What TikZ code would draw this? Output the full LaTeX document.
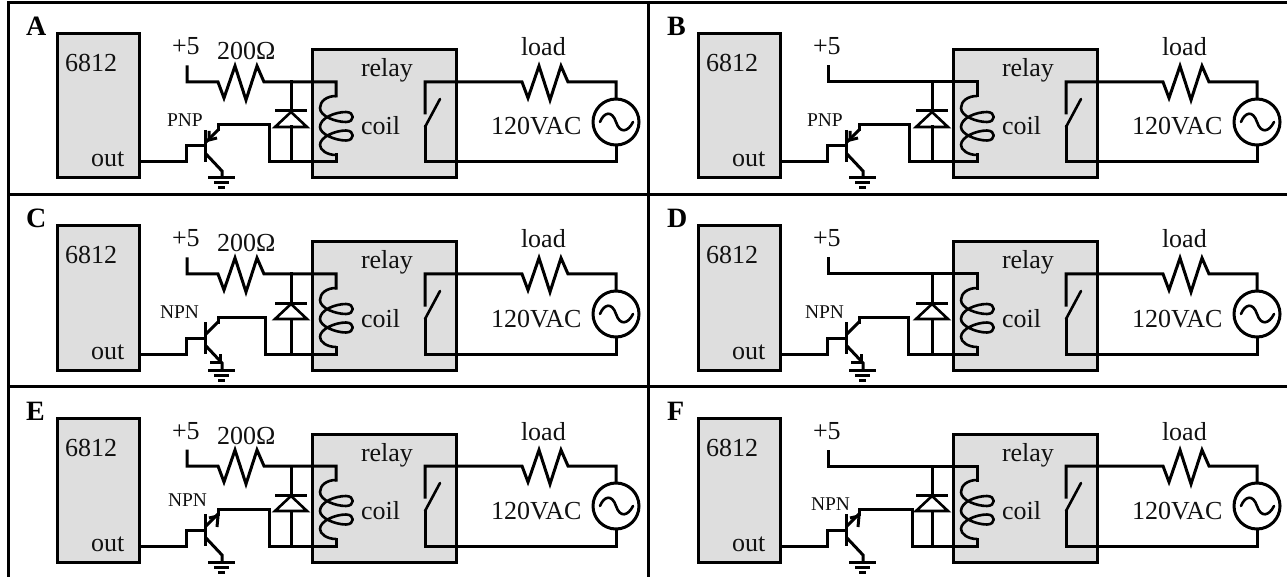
\documentclass[tikz,border=0pt]{standalone}
\usepackage{fontspec}
\setmainfont{Liberation Serif}
\usetikzlibrary{calc}
\definecolor{boxgray}{HTML}{DEDEDE}
\definecolor{ink}{HTML}{111111}
\tikzset{
  wire/.style={draw=black,line width=3pt,line join=miter,line cap=rect},
  thinwire/.style={draw=black,line width=2.6pt,line join=round,line cap=round},
  blockbox/.style={draw=black,fill=boxgray,line width=3pt,line join=miter},
  framerule/.style={draw=black,line width=3pt},
  txt/.style={anchor=base west,inner sep=0pt,outer sep=0pt,text=ink,font=\fontsize{26}{26}\selectfont},
  tag/.style={anchor=base west,inner sep=0pt,outer sep=0pt,text=black,font=\fontsize{28}{28}\selectfont\bfseries},
  small/.style={anchor=base west,inner sep=0pt,outer sep=0pt,text=ink,font=\fontsize{19.5}{20}\selectfont},
  acsource/.style={draw=black,circle,line width=3pt,minimum size=46pt,inner sep=0pt}
}
% #1 letter #2 dx #3 dy #4 with resistor (0/1) #5 transistor kind (0 PNP,1 NPN low arrow,2 NPN high arrow)
% #6 label x #7 label baseline #8 label #9 return wire x
\newcommand{\panel}[9]{%
\begin{scope}[shift={(#2,#3)}]
  \node[tag] (tag#1) at (26,36) {#1};
  % boxes
  \path[blockbox] (57,34) rectangle (139,178);
  \path[blockbox] (312,50) rectangle (456,178);
  \node[txt] (chip#1) at (65,72) {6812};
  \node[txt] (out#1) at (91,167) {out};
  \node[txt] (plus#1) at (172,55) {+5};
  \node[txt] (relay#1) at (361,77) {relay};
  \node[txt] (coil#1) at (361,135) {coil};
  \node[txt] (load#1) at (521,56) {load};
  \node[txt] (vac#1) at (491,135) {120VAC};
  \node[small] (type#1) at (#6,#7) {#8};
  % coordinates
  \coordinate (vcc#1) at (187,67);
  \coordinate (vcb#1) at (187,82);
  \coordinate (jt#1) at (291,82);
  \coordinate (ct#1) at (336,82);
  \coordinate (cb#1) at (336,162);
  \coordinate (jb#1) at (291,162);
  \coordinate (ret#1) at (#9,162);
  \coordinate (col#1) at (#9,125);
  \coordinate (mo#1) at (139,162);
  \coordinate (sw1#1) at (425,82);
  \coordinate (sw2#1) at (425,162);
  % supply
  \ifnum#4=1
    \node[txt] (ohm#1) at (217,60) {200Ω};
    \draw[wire] (vcc#1) -- (vcb#1) -- (218,82) -- (224,98) -- (235,66) -- (246,100) -- (257,66) -- (264,82) -- (ct#1) -- (336,96);
  \else
    \draw[wire] (vcc#1) -- (vcb#1) -- (ct#1) -- (336,96);
  \fi
  % coil
  \draw[thinwire] (336,96) .. controls (327,96) and (320,101) .. (320,108)
     .. controls (320,116) and (335,122) .. (346,122)
     .. controls (355,122) and (355,112) .. (346,112)
     .. controls (335,112) and (320,118) .. (320,127)
     .. controls (320,134) and (335,140.5) .. (346,140.5)
     .. controls (355,140.5) and (355,130.5) .. (346,130.5)
     .. controls (335,130.5) and (320,137) .. (320,145)
     .. controls (320,150) and (327,155) .. (336,155);
  \draw[wire] (336,155) -- (cb#1) -- (ret#1) -- (col#1) -- (218,125) -- (218,130);
  % diode
  \draw[wire] (jt#1) -- (291,111);
  \draw[wire] (291,127) -- (jb#1);
  \draw[wire,line cap=butt] (275,111) -- (307,111);
  \draw[thinwire,line join=miter] (291,112) -- (275,127) -- (307,127) -- cycle;
  % base
  \draw[wire] (mo#1) -- (186,162) -- (186,146) -- (205,146);
  \draw[wire,line cap=butt] (205,130) -- (205,162);
  % collector / emitter
  \draw[wire,line cap=butt] (218,130) -- (206,142);
  \draw[wire,line cap=butt] (206,154) -- (222,171) -- (222,178);
  \ifnum#5=0
    \draw[wire,line cap=butt,line join=miter] (209,131) -- (209,140) -- (217,138);
  \fi
  \ifnum#5=1
    \draw[wire,line cap=butt,line join=miter] (220,162) -- (220,170) -- (210,170);
  \fi
  \ifnum#5=2
    \draw[wire,line cap=butt,line join=miter] (209,134) -- (218,132) -- (217,143);
  \fi
  % ground
  \draw[wire,line cap=butt] (208,178) -- (235,178);
  \draw[wire,line cap=butt] (214,183) -- (229,183);
  \draw[wire,line cap=butt] (218,188) -- (225,188);
  % switch & load
  \draw[wire] (425,113) -- (sw1#1) -- (522,82) -- (528,98) -- (539,66) -- (550,100) -- (561,66) -- (568,82) -- (616,82) -- (616,98);
  \draw[wire] (616,146) -- (616,162) -- (sw2#1) -- (425,127);
  \draw[thinwire] (425,127) -- (440,99);
  \node[acsource] (ac#1) at (616,122) {};
  \draw[thinwire] (600,122) .. controls (604,112) and (612,110) .. (616,122)
     .. controls (620,134) and (628,132) .. (633,122);
\end{scope}}
\begin{document}
\begin{tikzpicture}[x=1pt,y=-1pt]
  \useasboundingbox (0,0) rectangle (1287,577);
  \fill[white] (0,0) rectangle (1287,577);
  \draw[framerule] (8,2.5) -- (1287,2.5);
  \draw[framerule] (8,1) -- (8,577);
  \draw[framerule] (648.5,1) -- (648.5,577);
  \draw[framerule] (8,194.5) -- (1287,194.5);
  \draw[framerule] (8,386) -- (1287,386);
  \panel{A}{0}{0}{1}{0}{167}{127}{PNP}{269}
  \panel{B}{641}{0}{0}{0}{166}{127}{PNP}{268}
  \panel{C}{0}{192}{1}{1}{160}{126}{NPN}{265}
  \panel{D}{641}{192}{0}{1}{164}{126}{NPN}{267}
  \panel{E}{0}{384}{1}{2}{168}{122}{NPN}{269}
  \panel{F}{641}{384}{0}{2}{170}{126}{NPN}{271}
\end{tikzpicture}
\end{document}
